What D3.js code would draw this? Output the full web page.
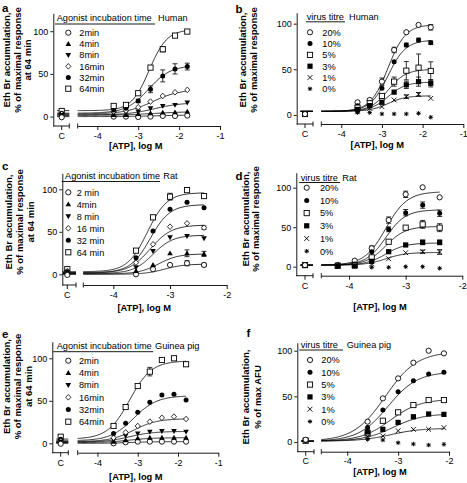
<!DOCTYPE html>
<html><head><meta charset="utf-8">
<script src="https://cdn.jsdelivr.net/npm/d3@7"></script>
<style>body{margin:0;background:#fff}svg{display:block}</style>
</head><body><svg id="c" width="467" height="483"></svg>
<script>
// ---------------- DATA ----------------
const timeLabelsA = ["2min","4min","8min","16min","32min","64min"];
const timeLabelsC = ["2 min","4min","8 min","16 min","32 min","64 min"];
const timeLabelsE = ["2min","4min","8min","16min","32min","64min"];
const titreLabels = ["20%","10%","5%","3%","1%","0%"];
const timeShapes = ["circleOpen","triUp","triDown","diamond","circleFilled","squareOpen"];
const titreShapes = ["circleOpen","circleFilled","squareOpen","squareFilled","cross","asterisk"];
const yTickValues = [0, 50, 100];

// Panel a (Human, agonist incubation time)
const dosesA = [-3.6,-3.3,-3.0,-2.7,-2.4,-2.1,-1.8];
const valuesA = [
  [0,0,-0.5,0,0.8,0.8,1.2],
  [2,2,3.1,4,4.7,5,5.9],
  [4,4.7,5.9,9.8,12.5,13.7,16.4],
  [5.9,7,11,17.6,24.2,28.5,31.3],
  [7.8,9.8,18.4,32,47.7,55.9,58.6],
  [12.5,13.7,27.4,57.4,78.9,94.9,99.6]];
const controlsA = [-0.8,1.2,2,3,4,6.6];
const errorsA = [
  [0,0,0,0,0,0,0],[0,0,0,0,0,0,0],[0,0,0,0,0,0,0],[0,0,0,0,0,0,0],
  [0,0,2,4,7,6,4],[0,0,0,2,3,0,0]];
const fitsA = [[0,2,-2.5,1],[1.5,6,-2.6,1],[2,16.5,-2.6,1.3],[3,32,-2.65,1.3],[4,60,-2.75,1.6],[7,102,-2.73,2]];

// Panel b (Human, virus titre)
const dosesB = [-3.6,-3.3,-3.0,-2.7,-2.4,-2.1,-1.8];
const valuesB = [
  [13.9,16.4,36.5,71.2,90.6,98.6,96],
  [10,13.5,29.2,58.4,76.7,82.1,79.2],
  [8,12.8,20.8,36.5,48.5,51.8,48.2],
  [6,10.2,13.9,25,33,36.5,34.7],
  [4,7.3,9.1,16.4,20,22.6,18.2],
  [2.6,2.6,1.1,1.1,1.1,1.8,-2.5]];
const controlsB = [1,1.5,1,1,1,1];
const errorsB = [
  [0,0,4,3,0,0,3],[0,0,0,0,2,2,2],[0,0,0,5,10,15,10],
  [0,0,0,0,4,5,4],[0,0,0,0,2,2,0],[0,0,0,0,0,0,0]];
const fitsB = [[4,99,-2.85,2],[4,82,-2.85,2],[4,50,-2.85,2],[4,36,-2.85,2],[4,21,-2.85,2],null];

// Panel c (Rat, agonist incubation time)
const dosesC = [-3.6,-3.3,-3.0,-2.7,-2.4];
const valuesC = [
  [0,5.9,11,13,11],
  [4,11,24.7,24.7,24],
  [8.2,27.4,43.5,45,42.3],
  [13.7,35.3,56,60,54.8],
  [19.5,51,76.5,84.7,78.4],
  [27.8,67,91.3,99,92]];
const controlsC = [-0.8,3,2.5,3.5,3.5,6];
const errorsC = [
  [0,0,0,3,2],[0,0,0,4,3],[0,0,0,0,0],[0,0,0,0,2],[0,0,0,0,0],[0,0,4,0,0]];
const fitsC = [[0,12,-3.1,2.5],[0.5,24,-3.2,2.5],[1,46,-3.3,2.5],[1.5,58,-3.35,2.3],[2,82,-3.35,2.5],[3,96,-3.4,2.5]];

// Panel d (Rat, virus titre)
const dosesD = [-4.2,-3.9,-3.6,-3.3,-3.0,-2.7,-2.4];
const valuesD = [
  [2.1,7.6,23.3,59,91.6,100.5,87.8],
  [1,3.4,19,47.3,68.4,78,67.6],
  [1.3,2,11.8,31.6,49.4,53.6,49.4],
  [1,1,6.8,19,27.5,30.8,30.8],
  [1,1,3.4,10.1,17.7,19,18.6],
  [0,0,-0.8,-0.8,0,0,-2]];
const controlsD = [2,2,2,2,2,1];
const errorsD = [
  [0,0,3,4,4,0,0],[0,0,0,3,4,4,4],[0,0,0,0,0,5,5],
  [0,0,0,0,0,3,3],[0,0,0,0,0,2,3],[0,0,0,0,0,0,0]];
const fitsD = [[2,95,-3.35,2.3],[2,72,-3.35,2.5],[2,51,-3.35,2.5],[2,30,-3.35,2.5],[2,18,-3.35,2.5],null];

// Panel e (Guinea pig, agonist incubation time)
const dosesE = [-3.6,-3.3,-3.0,-2.7,-2.4,-2.1,-1.8];
const valuesE = [
  [0,1.2,2,2,2,2,2],
  [2,3.5,5.9,6.6,6.6,6.6,6.6],
  [4.3,9,11.7,13.7,14.5,14.5,13.7],
  [6.6,12.9,20.4,25.5,30,31.4,28.6],
  [11.7,23.5,36.5,48.2,56.8,57.6,51],
  [20.4,42.7,67.4,84.3,98,100,93]];
const controlsE = [-0.5,1.5,2,3,4.7,7.8];
const errorsE = [
  [0,0,0,0,0,0,0],[0,0,0,0,0,0,0],[0,0,0,0,0,0,0],
  [0,0,0,0,0,0,0],[0,0,0,0,0,0,0],[0,0,0,5,0,0,0]];
const fitsE = [[0,2,-3.2,1.5],[1,6.6,-3.2,1.5],[1.5,14,-3.2,1.5],[2,29,-3.1,1.5],[3,56,-3.1,1.5],[5,97,-3.2,1.6]];

// Panel f (Guinea pig, virus titre)
const dosesF = [-3.6,-3.3,-3.0,-2.7,-2.4,-2.1];
const valuesF = [
  [22.3,47.8,69.7,86.9,100,97.1],
  [16,35,55,67.2,74.5,76.3],
  [9.5,23.3,32.5,40.5,46,46],
  [11,13.9,21.5,27.7,30.7,30.3],
  [5.8,6.6,12.4,13.9,13.9,15.7],
  [2.9,2.2,-0.8,-2.2,-3.3,-2.5]];
const controlsF = [2.5,1.5,1.5,1.5,1,1];
const errorsF = [[0,0,0,0,0,0],[0,0,0,0,0,0],[0,0,0,0,0,0],[0,0,0,0,0,0],[0,0,0,0,0,0],[0,0,0,0,0,0]];
const fitsF = [[1,99,-3.25,1.4],[1,77,-3.2,1.5],[1,47,-3.15,1.5],[1,31,-3.1,1.5],[1,15,-3.15,1.5],null];

// ---------------- PANELS (layout) ----------------
const FONT = "'Liberation Sans', Arial, Helvetica, sans-serif";
const panels = [
 {id:"a", title:"Agonist incubation time", species:"Human", labels:timeLabelsA, shapes:timeShapes,
  doses:dosesA, values:valuesA, controls:controlsA, errors:errorsA, fits:fitsA,
  ylab:["Eth Br accumulation,","% of maximal response","at 64 min"],
  L:{axisX:53.3, top:13.3, bottom:126, yDom:[-11,121], cX:61.7, brkEnd:69.3, seg2:[77.7,220], xDom:[-4.48,-1], xTicks:[-4,-3,-2,-1], tp:3,
     pl:[2,12], ylabBase:[10,20.5,31], ylabCy:60, xlab:[135.7,149],
     lg:{tx:56.7, ty:21, ul:[55,155], uly:24, sx:158, symX:68.3, textX:79.3, row0:32.7, dy:11.2}}},
 {id:"b", title:"virus titre", species:"Human", labels:titreLabels, shapes:titreShapes,
  doses:dosesB, values:valuesB, controls:controlsB, errors:errorsB, fits:fitsB,
  ylab:["Eth Br accumulation,","% of maximal response"],
  L:{axisX:296.7, top:12.7, bottom:124, yDom:[-9.9,112], cX:305, brkEnd:313, seg2:[321.3,463.3], xDom:[-4.49,-1], xTicks:[-4,-3,-2,-1], tp:3,
     pl:[235.5,13], ylabBase:[245.5,256.5], ylabCy:60, xlab:[377.3,148],
     lg:{tx:306.7, ty:20, ul:[306,345], uly:21.8, sx:349, symX:310, textX:322.3, row0:32.3, dy:11.3}}},
 {id:"c", title:"Agonist incubation time", species:"Rat", labels:timeLabelsC, shapes:timeShapes,
  doses:dosesC, values:valuesC, controls:controlsC, errors:errorsC, fits:fitsC,
  ylab:["Eth Br accumulation,","% of maximal response","at 64 min"],
  L:{axisX:62.3, top:173.3, bottom:285, yDom:[-12.6,118.8], cX:67.3, brkEnd:76, seg2:[83.3,226.7], xDom:[-4.53,-2], xTicks:[-4,-3,-2], tp:3,
     pl:[2,170], ylabBase:[12,23,34], ylabCy:222, xlab:[144.2,311],
     lg:{tx:65, ty:179, ul:[61.7,160], uly:181.5, sx:163.3, symX:68.3, textX:76.7, row0:192.3, dy:12}}},
 {id:"d", title:"virus titre", species:"Rat", labels:titreLabels, shapes:titreShapes,
  doses:dosesD, values:valuesD, controls:controlsD, errors:errorsD, fits:fitsD,
  ylab:["Eth Br accumulation,","% of maximal response"],
  L:{axisX:296.3, top:172.7, bottom:275.7, yDom:[-11.4,119], cX:305, brkEnd:313, seg2:[321.3,462.3], xDom:[-4.49,-2], xTicks:[-4,-3,-2], tp:3,
     pl:[235.5,180], ylabBase:[248.5,259], ylabCy:219, xlab:[380,310],
     lg:{tx:300.7, ty:180.5, ul:[299.3,340], uly:182.5, sx:342.3, symX:306.7, textX:320, row0:187.7, dy:12.7}}},
 {id:"e", title:"Agonist incubation time", species:"Guinea pig", labels:timeLabelsE, shapes:timeShapes,
  doses:dosesE, values:valuesE, controls:controlsE, errors:errorsE, fits:fitsE,
  ylab:["Eth Br accumulation,","% of maximal response","at 64 min"],
  L:{axisX:52.3, top:341.7, bottom:452.7, yDom:[-11,119.5], cX:60.7, brkEnd:68.3, seg2:[77.7,218.3], xDom:[-4.49,-1], xTicks:[-4,-3,-2,-1], tp:3,
     pl:[2,338], ylabBase:[10,20.5,31.5], ylabCy:386.5, xlab:[135.8,479.5],
     lg:{tx:56.7, ty:348.5, ul:[53.3,153.3], uly:351.7, sx:155, symX:68.3, textX:79, row0:360.7, dy:12.2}}},
 {id:"f", title:"virus titre", species:"Guinea pig", labels:titreLabels, shapes:titreShapes,
  doses:dosesF, values:valuesF, controls:controlsF, errors:errorsF, fits:fitsF,
  ylab:["Eth Br accumulation,","% of max AFU"],
  L:{axisX:297.3, top:342.7, bottom:451.7, yDom:[-10.6,108.8], cX:305.7, brkEnd:314, seg2:[321.3,449], xDom:[-4.51,-2], xTicks:[-4,-3,-2], tp:2,
     pl:[246.5,337], ylabBase:[249,260.5], ylabCy:397, xlab:[380,475],
     lg:{tx:300.7, ty:348, ul:[299.3,343], uly:350, sx:346.7, symX:310, textX:321.3, row0:360, dy:12.3}}}
];

// ---------------- DRAWING ----------------
const svg = d3.select("#c");
svg.append("rect").attr("width",467).attr("height",483).attr("fill","#fff");

function marker(g, shape, cx, cy){
  const s = g.append("g").attr("transform",`translate(${cx},${cy})`);
  switch(shape){
    case "circleOpen": s.append("circle").attr("r",2.6).attr("fill","#fff").attr("stroke","#000").attr("stroke-width",0.9); break;
    case "circleFilled": s.append("circle").attr("r",2.5).attr("fill","#000"); break;
    case "squareOpen": s.append("rect").attr("x",-2.6).attr("y",-2.6).attr("width",5.2).attr("height",5.2).attr("fill","#fff").attr("stroke","#000").attr("stroke-width",0.9); break;
    case "squareFilled": s.append("rect").attr("x",-2.6).attr("y",-2.6).attr("width",5.2).attr("height",5.2).attr("fill","#000"); break;
    case "triUp": s.append("path").attr("d","M0,-2.9L2.8,2L-2.8,2Z").attr("fill","#000"); break;
    case "triDown": s.append("path").attr("d","M0,2.9L2.8,-2L-2.8,-2Z").attr("fill","#000"); break;
    case "diamond": s.append("path").attr("d","M0,-2.8L2.6,0L0,2.8L-2.6,0Z").attr("fill","#fff").attr("stroke","#000").attr("stroke-width",0.8); break;
    case "cross": s.append("path").attr("d","M-2.4,-2.4L2.4,2.4M-2.4,2.4L2.4,-2.4").attr("stroke","#000").attr("stroke-width",0.9).attr("fill","none"); break;
    case "asterisk": s.append("path").attr("d","M-2.2,0L2.2,0M0,-2.2L0,2.2M-1.6,-1.6L1.6,1.6M-1.6,1.6L1.6,-1.6").attr("stroke","#000").attr("stroke-width",1).attr("fill","none"); break;
  }
}

function styleAxis(ax){
  ax.attr("font-family", FONT).attr("font-size", 9);
  ax.selectAll("path,line").attr("stroke","#000").attr("stroke-width",0.9);
  ax.selectAll("text").attr("fill","#000");
}

function drawPanel(p){
  const L = p.L;
  const g = svg.append("g");
  const y = d3.scaleLinear().domain(L.yDom).range([L.bottom, L.top]);
  const x = d3.scaleLinear().domain(L.xDom).range(L.seg2);

  const ya = g.append("g").attr("transform",`translate(${L.axisX},0)`)
    .call(d3.axisLeft(y).tickValues(yTickValues).tickSize(3).tickSizeOuter(0).tickPadding(2));
  styleAxis(ya);
  const xa = g.append("g").attr("transform",`translate(0,${L.bottom})`)
    .call(d3.axisBottom(x).tickValues(L.xTicks).tickFormat(d => String(d)).tickSize(4).tickSizeOuter(0).tickPadding(L.tp));
  styleAxis(xa);
  const ln = (x1,y1,x2,y2) => g.append("line").attr("x1",x1).attr("y1",y1).attr("x2",x2).attr("y2",y2).attr("stroke","#000").attr("stroke-width",0.9);
  ln(L.axisX, L.bottom, L.brkEnd, L.bottom);
  ln(L.cX, L.bottom, L.cX, L.bottom+4);
  ln(L.brkEnd, L.bottom-2.5, L.brkEnd, L.bottom+2.5);
  ln(L.seg2[0], L.bottom-2.5, L.seg2[0], L.bottom+2.5);
  g.append("text").attr("x",L.cX).attr("y",L.bottom+10.4+L.tp).attr("text-anchor","middle")
    .attr("font-family",FONT).attr("font-size",9).text("C");

  g.append("text").attr("x",L.pl[0]).attr("y",L.pl[1]).attr("font-family",FONT).attr("font-weight","bold").attr("font-size",11.5).text(p.id);
  p.ylab.forEach((t,i)=>{
    g.append("text").attr("transform",`translate(${L.ylabBase[i]},${L.ylabCy}) rotate(-90)`)
      .attr("text-anchor","middle").attr("font-family",FONT).attr("font-weight","bold").attr("font-size",9.5).text(t);
  });
  g.append("text").attr("x",L.xlab[0]).attr("y",L.xlab[1]).attr("text-anchor","middle")
    .attr("font-family",FONT).attr("font-weight","bold").attr("font-size",9.3).text("[ATP], log M");

  const lastDose = p.doses[p.doses.length-1];
  const line = d3.line().x(d=>x(d[0])).y(d=>y(d[1]));
  p.fits.forEach((f)=>{
    if(!f) return;
    const [b,t,ec,h] = f;
    const pts = d3.range(0,121).map(i=>{
      const xv = L.xDom[0] + (lastDose - L.xDom[0])*i/120;
      return [xv, b + (t-b)/(1+Math.pow(10,(ec-xv)*h))];
    });
    g.append("path").attr("d",line(pts)).attr("fill","none").attr("stroke","#000").attr("stroke-width",0.8);
    ln(L.cX-4.5, y(b), L.brkEnd, y(b)).attr("stroke-width",0.8);
  });

  p.values.forEach((vals,si)=>{
    vals.forEach((v,di)=>{
      const e = p.errors[si][di];
      if(e>0){
        const xx = x(p.doses[di]);
        ln(xx, y(v-e), xx, y(v+e)).attr("stroke-width",0.8);
        ln(xx-2.5, y(v+e), xx+2.5, y(v+e)).attr("stroke-width",0.8);
        ln(xx-2.5, y(v-e), xx+2.5, y(v-e)).attr("stroke-width",0.8);
      }
    });
  });
  for(let si=p.values.length-1; si>=0; si--) marker(g, p.shapes[si], L.cX, y(p.controls[si]));
  p.values.forEach((vals,si)=>{
    vals.forEach((v,di)=> marker(g, p.shapes[si], x(p.doses[di]), y(v)));
  });

  const lg = L.lg;
  g.append("text").attr("x",lg.tx).attr("y",lg.ty).attr("font-family",FONT).attr("font-size",9.2).text(p.title);
  g.append("line").attr("x1",lg.ul[0]).attr("x2",lg.ul[1]).attr("y1",lg.uly).attr("y2",lg.uly).attr("stroke","#000").attr("stroke-width",0.9);
  g.append("text").attr("x",lg.sx).attr("y",lg.ty).attr("font-family",FONT).attr("font-size",9.2).text(p.species);
  p.labels.forEach((t,i)=>{
    const cy = lg.row0 + lg.dy*i;
    marker(g, p.shapes[i], lg.symX, cy);
    g.append("text").attr("x",lg.textX).attr("y",cy+3.3).attr("font-family",FONT).attr("font-size",9.2).text(t);
  });
}

panels.forEach(drawPanel);
</script></body></html>
